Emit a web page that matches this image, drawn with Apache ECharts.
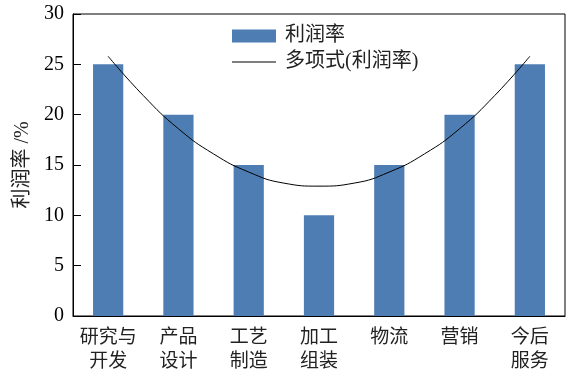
<!DOCTYPE html>
<html>
<head>
<meta charset="utf-8">
<script src="https://cdn.jsdelivr.net/npm/echarts@6/dist/echarts.min.js"></script>
<style>
  html, body { margin: 0; padding: 0; background: #fff; }
  #chart { width: 576px; height: 377px; }
</style>
</head>
<body>
<div id="chart"></div>
<script>
// 利润率（微笑曲线）
const categories = ['研究与\n开发', '产品\n设计', '工艺\n制造', '加工\n组装', '物流', '营销', '今后\n服务'];
const profitRate = [25, 20, 15, 10, 15, 20, 25];
// 多项式趋势线：按图中曲线在半个类目间隔处读取的值（位置, 值）
const trendX = [1, 1.5, 2, 2.5, 3, 3.5, 4, 4.5, 5, 5.5, 6, 6.5, 7];
const trendY = [25.8, 21.9, 18.6, 16.1, 14.3, 13.2, 12.9, 13.2, 14.3, 16.1, 18.6, 21.9, 25.8];
const yTicks = { min: 0, max: 30, interval: 5 };

const FONT = "'Liberation Serif', 'Times New Roman', 'Noto Sans CJK SC', serif";

const chart = echarts.init(document.getElementById('chart'));
chart.setOption({
    backgroundColor: '#fff',
    animation: false,
    textStyle: { fontFamily: FONT },
    grid: {
        left: 73, right: 11, top: 14, bottom: 61,
        show: true, borderColor: '#000', borderWidth: 1, backgroundColor: 'transparent'
    },
    legend: {
        orient: 'vertical',
        left: 227, top: 21,
        itemWidth: 44, itemHeight: 13, itemGap: 6,
        textStyle: { fontSize: 20, color: '#222', fontFamily: FONT, padding: [0, 0, 0, 4] },
        data: [
            { name: '利润率', icon: 'rect' },
            { name: '多项式(利润率)', icon: 'path://M0,6L44,6L44,7L0,7Z' }
        ]
    },
    xAxis: [
        {
            type: 'category',
            data: categories,
            boundaryGap: true,
            axisLine: { lineStyle: { color: '#000', width: 1 } },
            axisTick: { inside: true, length: 8, lineStyle: { color: '#000' } },
            axisLabel: { color: '#222', fontSize: 19, lineHeight: 24, margin: 10, interval: 0, fontFamily: FONT }
        },
        {
            // 隐藏的数值轴，用于趋势线定位（0.5 ~ 7.5 对齐类目边界）
            type: 'value', min: 0.5, max: 7.5, show: false, position: 'bottom'
        }
    ],
    yAxis: {
        type: 'value',
        min: yTicks.min, max: yTicks.max, interval: yTicks.interval,
        name: '利润率 /%',
        nameLocation: 'middle',
        nameGap: 30,
        nameTextStyle: { fontSize: 20, color: '#222', fontFamily: FONT },
        axisLine: { show: true, lineStyle: { color: '#000', width: 1 } },
        axisTick: { show: true, inside: true, length: 8, lineStyle: { color: '#000' } },
        axisLabel: { color: '#000', fontSize: 20, margin: 9, fontFamily: FONT },
        splitLine: { show: false }
    },
    series: [
        {
            name: '利润率', type: 'bar', data: profitRate,
            barWidth: '43%',
            itemStyle: { color: '#4e7db3' }
        },
        {
            name: '多项式(利润率)', type: 'line', xAxisIndex: 1,
            data: trendX.map((x, i) => [x, trendY[i]]),
            smooth: true, showSymbol: false, symbol: 'none',
            lineStyle: { color: '#000', width: 1 },
            itemStyle: { color: '#000' }
        }
    ]
});
</script>
</body>
</html>
